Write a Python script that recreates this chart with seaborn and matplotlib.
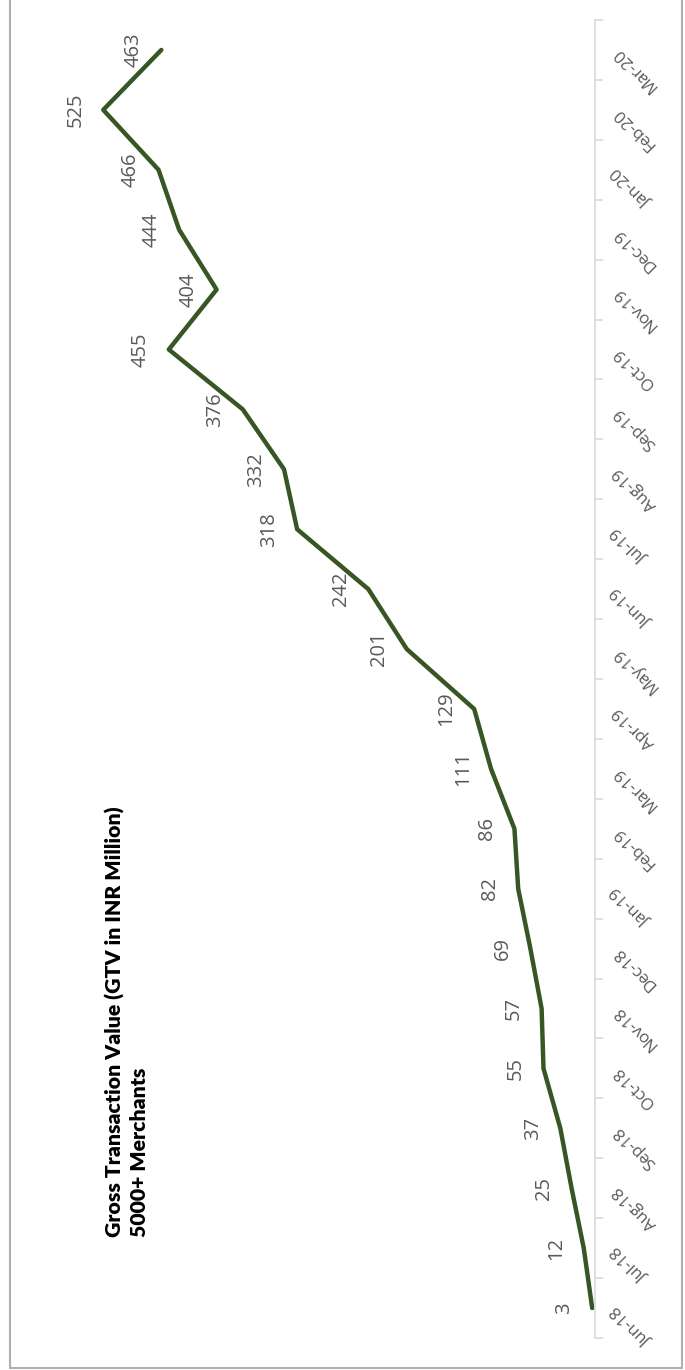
import matplotlib
matplotlib.use("Agg")
import matplotlib.pyplot as plt
from matplotlib.lines import Line2D
import numpy as np
import pandas as pd
import seaborn as sns

# Monthly gross transaction value, INR million
months = ["Jun-18", "Jul-18", "Aug-18", "Sep-18", "Oct-18", "Nov-18", "Dec-18",
          "Jan-19", "Feb-19", "Mar-19", "Apr-19", "May-19", "Jun-19", "Jul-19",
          "Aug-19", "Sep-19", "Oct-19", "Nov-19", "Dec-19", "Jan-20", "Feb-20",
          "Mar-20"]
gtv = [3, 12, 25, 37, 55, 57, 69, 82, 86, 111, 129, 201, 242, 318, 332, 376,
       455, 404, 444, 466, 525, 463]
title_lines = ["Gross Transaction Value (GTV in INR Million)", "5000+ Merchants"]

sns.set_style("white")
plt.rcParams["font.family"] = ["Open Sans", "DejaVu Sans"]

LINE = "#375623"
TEXT = "#595959"
AXIS = "#d9d9d9"

W, H = 685, 1370
fig = plt.figure(figsize=(W / 100, H / 100), dpi=100)
ax = fig.add_axes([33 / W, (H - 1338) / H, (595 - 33) / W, (1338 - 20) / H])

df = pd.DataFrame({"month": months, "gtv": gtv, "pos": np.arange(len(months))})
sns.lineplot(data=df, x="gtv", y="pos", orient="y", sort=False, color=LINE,
             linewidth=3.2, ax=ax)

# value axis runs right-to-left, categories bottom-to-top
ax.set_xlim(600, 0)
ax.set_ylim(-0.5, len(months) - 0.5)
ax.set_xticks([])
ax.set_xlabel("")
ax.set_ylabel("")

for side in ["top", "left", "bottom"]:
    ax.spines[side].set_visible(False)
ax.spines["right"].set_color(AXIS)
ax.spines["right"].set_linewidth(1.2)

ax.yaxis.tick_right()
ax.set_yticks(df["pos"], labels=months)
ax.set_yticks(np.arange(-0.5, len(months), 1), minor=True)
ax.tick_params(axis="y", which="major", length=0, pad=15, labelsize=12,
               labelcolor=TEXT, right=True, left=False, labelright=True,
               labelleft=False)
ax.tick_params(axis="y", which="minor", length=6, width=1.2, color=AXIS,
               right=True, left=False)
for lab in ax.get_yticklabels():
    lab.set_rotation(135)
    lab.set_ha("right")
    lab.set_va("center")
    lab.set_rotation_mode("anchor")

# data labels beside each point
for i, v in enumerate(gtv):
    ax.annotate(str(v), xy=(v, i), xytext=(-20, 0), textcoords="offset points",
                rotation=90, ha="center", va="center", fontsize=14.5,
                color=TEXT)

# chart title
title_style = dict(rotation=90, ha="center", va="bottom", fontsize=15.3,
                   fontweight="heavy", color="#000000",
                   family=["Lato", "DejaVu Sans"])
fig.text(115 / W, (H - 1237) / H, title_lines[0], **title_style)
fig.text(140 / W, (H - 1237) / H, title_lines[1], **title_style)

# chart frame
frame = dict(color="#b0b0b0", linewidth=1.5, transform=fig.transFigure)
fig.lines.append(Line2D([9.5 / W, 9.5 / W], [(H - 1368) / H, 1], **frame))
fig.lines.append(Line2D([682 / W, 682 / W], [(H - 1368) / H, 1], **frame))
fig.lines.append(Line2D([9.5 / W, 682 / W], [(H - 1368) / H, (H - 1368) / H], **frame))

fig.savefig("out.png", dpi=100)
